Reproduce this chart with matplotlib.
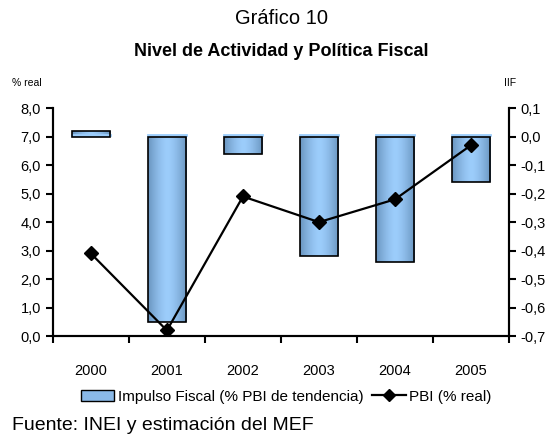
import matplotlib
matplotlib.use('Agg')
import matplotlib.pyplot as plt
import numpy as np
from matplotlib.lines import Line2D
from matplotlib.patches import Patch
from matplotlib import font_manager

# data
years = ['2000', '2001', '2002', '2003', '2004', '2005']
impulso = [0.02, -0.65, -0.06, -0.42, -0.44, -0.16]   # IIF, right axis
pbi = [2.9, 0.2, 4.9, 4.0, 4.8, 6.7]                  # % real, left axis
left_ticks = [0, 1, 2, 3, 4, 5, 6, 7, 8]
right_ticks = [-0.7, -0.6, -0.5, -0.4, -0.3, -0.2, -0.1, 0.0, 0.1]

names = {f.name for f in font_manager.fontManager.ttflist}
fam = 'Liberation Sans Narrow' if 'Liberation Sans Narrow' in names else 'Liberation Sans'
plt.rcParams['font.family'] = [fam, 'DejaVu Sans']


def fmt(v, nd):
    return f'{v:.{nd}f}'.replace('.', ',')


fig = plt.figure(figsize=(5.45, 4.36), dpi=100)
ax = fig.add_axes([0.097, 0.229, 0.837, 0.523])
ax2 = ax.twinx()

x = np.arange(len(years))
w = 0.5

# gradient bars on the right axis
grad = np.abs(np.linspace(-1, 1, 64))
grad = (1 - grad ** 1.5)[None, :]
cmap = matplotlib.colors.LinearSegmentedColormap.from_list('bl', ['#6A95C0', '#9CCDFB'])
for xi, v in zip(x, impulso):
    lo, hi = min(0, v), max(0, v)
    ax2.imshow(grad, cmap=cmap, aspect='auto', extent=[xi - w / 2, xi + w / 2, lo, hi],
               zorder=2, interpolation='bilinear')
    ax2.bar(xi, v, width=w, facecolor='none', edgecolor='black', linewidth=1.2, zorder=3)
    ax2.plot([xi - w / 2, xi + w / 2], [0.004, 0.004], color='#9CCDFB', lw=2, zorder=2.5)

ax2.set_ylim(-0.7, 0.1)
ax2.set_xlim(-0.5, len(years) - 0.5)
ax2.set_yticks(right_ticks)
ax2.set_yticklabels([fmt(t, 1) for t in right_ticks], fontsize=10.5)

# line on the left axis, drawn above the bars
ax.set_zorder(ax2.get_zorder() + 1)
ax.patch.set_visible(False)
ax.plot(x, pbi, color='black', lw=1.6, marker='D', markersize=7, zorder=4)
ax.set_ylim(0, 8)
ax.set_yticks(left_ticks)
ax.set_yticklabels([fmt(t, 1) for t in left_ticks], fontsize=10.5)
ax.set_xlim(-0.5, len(years) - 0.5)
ax.set_xticks(np.arange(len(years) + 1) - 0.5)
ax.set_xticklabels([])
ax.set_xticks(x, minor=True)
ax.set_xticklabels(years, minor=True, fontsize=10.5)
ax.tick_params(axis='x', which='minor', length=0, pad=20)
ax.tick_params(axis='x', which='major', direction='out', length=5, width=1.5)
ax.tick_params(axis='y', direction='out', length=5, width=1.5)
ax2.tick_params(axis='y', direction='out', length=5, width=1.5)

for a in (ax, ax2):
    a.spines['top'].set_visible(False)
    for s in ('left', 'right', 'bottom'):
        a.spines[s].set_linewidth(1.5)

fig.text(0.516, 0.957, 'Gráfico 10', ha='center', va='center', fontsize=14.5)
fig.text(0.516, 0.882, 'Nivel de Actividad y Política Fiscal', ha='center', va='center',
         fontsize=13, fontweight='bold')
fig.text(0.022, 0.81, '% real', ha='left', va='center', fontsize=7.5)
fig.text(0.925, 0.81, 'IIF', ha='left', va='center', fontsize=7.5)

handles = [Patch(facecolor='#8AB9E8', edgecolor='black', label='Impulso Fiscal (% PBI de tendencia)'),
           Line2D([0], [0], color='black', lw=1.6, marker='D', markersize=6, label='PBI (% real)')]
fig.legend(handles=handles, loc='center', bbox_to_anchor=(0.525, 0.09), ncol=2, frameon=False,
           fontsize=11, handlelength=2.2, handletextpad=0.2, columnspacing=0.6)
fig.text(0.022, 0.025, 'Fuente: INEI y estimación del MEF', ha='left', va='center', fontsize=14)

fig.savefig('out.png', dpi=100)
